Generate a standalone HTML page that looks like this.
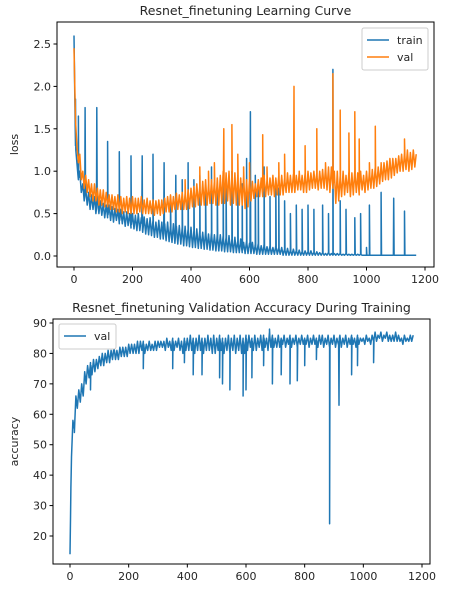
<!DOCTYPE html>
<html><head><meta charset="utf-8">
<style>
body{margin:0;background:#fff;font-family:"DejaVu Sans","Liberation Sans",sans-serif;}
svg{display:block}
text{font-family:"DejaVu Sans","Liberation Sans",sans-serif;fill:#262626}
</style></head>
<body>
<svg id="chart" width="476" height="593"></svg>
<script>
// ---- data ----
const lossStep = 5;
const trainLoss = [2.6,1.3,1.1,0.9,1.0,0.75,0.85,0.65,0.8,0.6,0.75,0.55,0.72,0.55,0.7,0.5,0.68,0.5,0.65,0.48,
0.62,0.45,0.6,0.45,0.6,0.42,0.58,0.4,0.56,0.42,0.55,0.38,0.55,0.38,0.52,0.35,0.52,0.36,0.5,0.33,
0.5,0.32,0.48,0.3,0.5,0.3,0.45,0.28,0.46,0.26,0.44,0.25,0.45,0.24,0.42,0.22,0.4,0.22,0.42,0.2,
0.4,0.2,0.38,0.18,0.4,0.17,0.36,0.16,0.38,0.15,0.35,0.14,0.36,0.14,0.34,0.12,0.35,0.12,0.32,0.11,
0.34,0.1,0.3,0.1,0.32,0.09,0.3,0.09,0.28,0.08,0.3,0.08,0.26,0.07,0.28,0.07,0.25,0.06,0.26,0.06,
0.25,0.06,0.24,0.05,0.22,0.05,0.24,0.05,0.2,0.04,0.22,0.04,0.18,0.04,0.2,0.04,0.16,0.03,0.18,0.03,
0.15,0.03,0.16,0.03,0.14,0.02,0.15,0.02,0.12,0.02,0.14,0.02,0.11,0.02,0.12,0.02,0.1,0.02,0.12,0.02,
0.1,0.02,0.1,0.01,0.08,0.01,0.09,0.01,0.07,0.01,0.08,0.01,0.06,0.01,0.07,0.01,0.05,0.01,0.06,0.01,
0.05,0.01,0.06,0.01,0.04,0.01,0.05,0.01,0.04,0.01,0.04,0.01,0.03,0.01,0.04,0.01,0.03,0.01,0.03,0.01,
0.03,0.01,0.03,0.01,0.02,0.01,0.03,0.01,0.02,0.01,0.02,0.01,0.02,0.01,0.02,0.01,0.02,0.01,0.01,0.01,
0.01,0.01,0.01,0.01,0.01,0.01,0.01,0.01,0.01,0.01,0.01,0.01,0.01,0.01,0.01,0.01,0.01,0.01,0.01,0.01,
0.01,0.01,0.01,0.01,0.01,0.01,0.01,0.01,0.01,0.01,0.01,0.01,0.01,0.01,0.01];
const trainSpikeEpochs = [5,15,38,78,115,155,195,233,270,308,330,348,370,390,410,430,450,470,490,510,520,540,560,575,590,603,620,630,650,670,690,700,720,740,760,780,800,820,850,870,885,910,930,960,980,1000,1010,1050,1093,1130];
const trainSpikeValues = [1.85,1.65,1.75,1.75,1.35,1.23,1.18,1.18,1.2,1.1,0.7,0.95,0.9,1.1,0.9,0.95,0.75,1.05,0.9,0.95,0.8,1.0,0.95,0.85,1.15,1.7,0.95,0.8,1.05,0.7,0.9,0.8,0.65,0.5,0.6,0.55,0.6,0.55,0.6,0.5,2.2,0.65,0.55,0.45,0.5,0.1,0.6,0.75,0.68,0.53];
const valLoss = [2.45,1.6,1.3,1.1,1.2,0.9,1.0,0.8,0.95,0.75,0.9,0.7,0.85,0.65,0.85,0.65,0.8,0.6,0.78,0.6,
0.78,0.58,0.75,0.58,0.72,0.55,0.72,0.55,0.7,0.52,0.72,0.52,0.7,0.5,0.68,0.52,0.7,0.5,0.68,0.5,
0.7,0.5,0.68,0.5,0.68,0.52,0.7,0.5,0.66,0.5,0.68,0.5,0.65,0.5,0.66,0.48,0.65,0.5,0.66,0.48,
0.66,0.5,0.68,0.52,0.7,0.52,0.72,0.52,0.7,0.55,0.74,0.55,0.72,0.55,0.75,0.55,0.74,0.55,0.78,0.56,
0.8,0.58,0.82,0.58,0.85,0.6,0.82,0.6,0.88,0.6,0.9,0.6,0.85,0.62,0.9,0.62,0.88,0.6,0.92,0.6,
0.95,0.62,1.0,0.62,0.98,0.65,1.0,0.6,0.95,0.62,0.98,0.6,0.95,0.6,0.92,0.6,0.95,0.56,0.9,0.58,
0.9,0.65,0.88,0.68,0.85,0.7,0.9,0.7,0.92,0.7,0.95,0.7,0.9,0.72,0.92,0.72,0.95,0.7,0.92,0.72,
0.95,0.72,0.95,0.72,0.92,0.75,0.98,0.75,0.95,0.75,0.96,0.75,0.95,0.78,0.98,0.78,0.95,0.75,0.98,0.75,
1.0,0.78,0.98,0.8,1.0,0.8,0.98,0.78,1.0,0.8,1.02,0.8,1.05,0.78,1.05,0.75,1.05,0.8,1.0,0.62,
1.0,0.65,0.95,0.7,1.0,0.72,0.95,0.75,1.0,0.7,0.98,0.72,1.0,0.75,0.98,0.72,1.0,0.78,0.95,0.75,
1.0,0.78,1.0,0.8,1.02,0.8,1.05,0.82,1.05,0.85,1.08,0.88,1.1,0.9,1.12,0.9,1.15,0.92,1.15,0.95,
1.15,0.98,1.18,1.0,1.2,1.0,1.22,1.02,1.25,1.0,1.22,1.02,1.25,1.05,1.2];
const valSpikeEpochs = [380,430,460,480,512,540,560,580,600,645,660,700,720,752,770,790,830,860,885,910,940,960,975,1010,1030,1050,1130];
const valSpikeValues = [0.9,1.05,1.0,1.1,1.5,1.55,1.2,1.05,1.1,1.43,1.05,1.1,1.2,2.0,1.0,1.3,1.5,1.1,2.15,1.72,1.45,1.7,1.38,1.1,1.53,1.1,1.38];
const accStep = 5;
const valAcc = [14,46,58,55,66,62,68,64,70,66,74,70,76,72,77,73,78,74,78,75,
79,76,80,76,80,77,81,77,81,78,82,78,81,78,82,79,82,79,82,79,
83,80,83,80,83,80,84,80,84,81,84,80,83,81,84,81,83,81,84,81,
84,82,84,82,84,81,85,82,84,81,85,81,84,82,85,81,84,80,85,81,
85,81,86,81,85,80,85,81,86,81,85,80,85,81,86,81,85,80,86,80,
85,81,86,81,85,80,85,81,86,80,85,81,86,80,85,81,86,80,85,80,
86,81,86,82,85,81,86,81,85,82,86,81,86,82,85,81,87,82,86,82,
85,82,86,82,85,83,86,82,85,83,86,82,85,83,86,82,85,83,86,83,
85,83,86,82,85,83,86,83,85,82,86,83,86,82,85,83,86,82,85,83,
86,82,85,83,86,82,85,83,86,82,85,83,86,83,85,82,86,83,85,84,
85,83,86,84,85,83,86,84,87,84,86,85,87,84,86,85,87,84,86,84,
86,84,87,84,86,84,85,83,86,84,85,84,86,84,86];
const accSpikeEpochs = [3,15,45,70,250,350,390,420,450,510,520,545,590,600,620,660,680,690,720,750,775,800,840,885,917,960,980,1035];
const accSpikeValues = [36,54,66,68,75,75,77,73,73,72,70,68,66,68,72,76,88,70,73,70,71,76,78,24,63,73,76,77];
const lossTicks = [0.0,0.5,1.0,1.5,2.0,2.5];
const accTicks = [20,30,40,50,60,70,80,90];
const xTicks = [0,200,400,600,800,1000,1200];

// ---- helpers ----
const NS="http://www.w3.org/2000/svg";
const svg=document.getElementById('chart');
function mk(tag,attrs,parent){const e=document.createElementNS(NS,tag);for(const k in attrs)e.setAttribute(k,attrs[k]);(parent||svg).appendChild(e);return e;}
function series(base,step,spE,spV){
  const pts=base.map((v,i)=>[i*step,v]);
  const interp=x=>{const i=Math.min(Math.floor(x/step),base.length-2);const t=(x-i*step)/step;return base[i]*(1-t)+base[i+1]*t;};
  spE.forEach((e,i)=>{pts.push([e-1.2,interp(Math.max(0,e-1.2))]);pts.push([e,spV[i]]);pts.push([e+1.2,interp(e+1.2)]);});
  pts.sort((a,b)=>a[0]-b[0]);return pts;
}
function drawLine(pts,xf,yf,color,name){
  const p=mk('path',{d:pts.map((q,i)=>(i?'L':'M')+xf(q[0]).toFixed(1)+' '+yf(q[1]).toFixed(1)).join(''),fill:'none',stroke:color,'stroke-width':1.5,'stroke-linejoin':'round'});
  
  
}
function axes(box,xf,yf,yt,fmt,title,ylab,pfx){
  const r=mk('rect',{x:box.x0,y:box.y0,width:box.x1-box.x0,height:box.y1-box.y0,fill:'none',stroke:'#000','stroke-width':1});
  
  xTicks.forEach(t=>{const x=xf(t);mk('line',{x1:x,x2:x,y1:box.y1,y2:box.y1+3.5,stroke:'#000'});
    const tx=mk('text',{x:x,y:box.y1+16,'font-size':11,'text-anchor':'middle'});tx.textContent=t;
    });
  yt.forEach(t=>{const y=yf(t);mk('line',{x1:box.x0-3.5,x2:box.x0,y1:y,y2:y,stroke:'#000'});
    const tx=mk('text',{x:box.x0-6,y:y+4,'font-size':11,'text-anchor':'end'});tx.textContent=fmt(t);
    });
  const tt=mk('text',{x:(box.x0+box.x1)/2,y:box.y0-7,'font-size':12.5,'text-anchor':'middle'});tt.textContent=title;
  
  const yl=mk('text',{x:0,y:0,'font-size':11,'text-anchor':'middle',transform:`translate(${box.yl},${(box.y0+box.y1)/2}) rotate(-90)`});yl.textContent=ylab;
  
}
function legend(x,y,w,entries,pfx){
  const g=mk('g',{});
  mk('rect',{x:x,y:y,width:w,height:8+entries.length*17,fill:'#fff',stroke:'#ccc',rx:2},g);
  entries.forEach((e,i)=>{const cy=y+12+i*17;mk('line',{x1:x+5,x2:x+27,y1:cy,y2:cy,stroke:e[1],'stroke-width':1.5},g);
    const t=mk('text',{x:x+35,y:cy+4,'font-size':11},g);t.textContent=e[0];
    });
}

// ---- top chart ----
const b1={x0:57,x1:434,y0:22,y1:267,yl:18};
const x1f=v=>74+v*(351/1200), y1f=v=>256-v*(212/2.5);
drawLine(series(trainLoss,lossStep,trainSpikeEpochs,trainSpikeValues),x1f,y1f,'#1f77b4','train-loss-line');
drawLine(series(valLoss,lossStep,valSpikeEpochs,valSpikeValues),x1f,y1f,'#ff7f0e','val-loss-line');
axes(b1,x1f,y1f,lossTicks,t=>t.toFixed(1),'Resnet_finetuning Learning Curve','loss','loss');
legend(362,28,66,[['train','#1f77b4'],['val','#ff7f0e']],'loss');

// ---- bottom chart ----
const b2={x0:53,x1:430,y0:319,y1:564,yl:18};
const x2f=v=>70+v*(352/1200), y2f=v=>536-(v-20)*(213/70);
drawLine(series(valAcc,accStep,accSpikeEpochs,accSpikeValues),x2f,y2f,'#1f77b4','val-accuracy-line');
axes(b2,x2f,y2f,accTicks,t=>t,'Resnet_finetuning Validation Accuracy During Training','accuracy','acc');
legend(59,324,57,[['val','#1f77b4']],'acc');
</script>
</body></html>
